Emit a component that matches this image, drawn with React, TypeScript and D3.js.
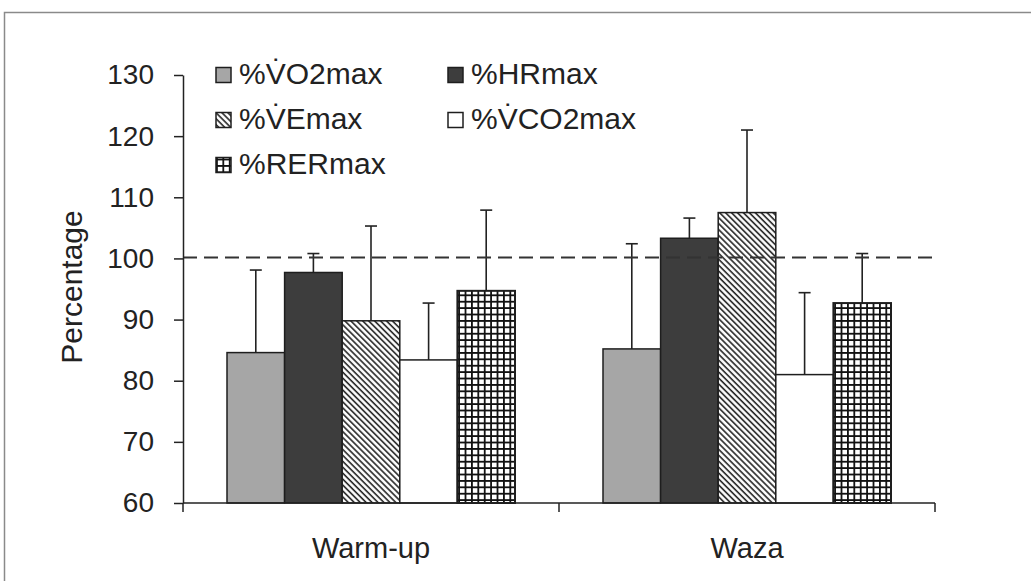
import React, { useEffect, useRef } from "react";
import * as d3 from "d3";

// chart values
const categories = ["Warm-up", "Waza"];
const seriesNames = ["%V\u0307O2max", "%HRmax", "%V\u0307Emax", "%V\u0307CO2max", "%RERmax"];
const seriesKeys = ["vo2", "hr", "ve", "vco2", "rer"];
const warmupMeans = [84.6, 97.7, 89.8, 83.4, 94.7];
const warmupSD = [13.5, 3.1, 15.5, 9.3, 13.2];
const wazaMeans = [85.2, 103.3, 107.5, 81.0, 92.7];
const wazaSD = [17.2, 3.3, 13.5, 13.4, 8.1];
const yTicks = [60, 70, 80, 90, 100, 110, 120, 130];
const refLine = 100;

const FONT = "'Liberation Sans', Arial, sans-serif";

export default function App() {
  const ref = useRef<SVGSVGElement | null>(null);

  useEffect(() => {
    const svg = d3.select(ref.current);
    svg.selectAll("*").remove();

    const left = 183,
      right = 935,
      top = 75,
      bottom = 503;

    const defs = svg.append("defs");
    // diagonal hatch for VE
    const hatch = defs
      .append("pattern")
      .attr("id", "hatch")
      .attr("patternUnits", "userSpaceOnUse")
      .attr("width", 4.2)
      .attr("height", 4.2)
      .attr("patternTransform", "rotate(-45)");
    hatch.append("rect").attr("width", 4.2).attr("height", 4.2).attr("fill", "white");
    hatch
      .append("line")
      .attr("x1", 1)
      .attr("x2", 1)
      .attr("y1", 0)
      .attr("y2", 4.2)
      .attr("stroke", "#222")
      .attr("stroke-width", 1.6);
    // grid for RER
    const grid = defs
      .append("pattern")
      .attr("id", "grid")
      .attr("patternUnits", "userSpaceOnUse")
      .attr("width", 6.4)
      .attr("height", 6.4);
    grid.append("rect").attr("width", 6.4).attr("height", 6.4).attr("fill", "white");
    grid
      .append("path")
      .attr("d", "M0,0.9H6.4M0.9,0V6.4")
      .attr("stroke", "#111")
      .attr("stroke-width", 1.8);

    const fills: Record<string, string> = {
      vo2: "#a6a6a6",
      hr: "#3d3d3d",
      ve: "url(#hatch)",
      vco2: "#ffffff",
      rer: "url(#grid)",
    };

    // frame
    svg
      .append("rect")
      .attr("x", 4.5)
      .attr("y", 12.5)
      .attr("width", 1100)
      .attr("height", 700)
      .attr("fill", "none")
      .attr("stroke", "#8a8a8a")
      .attr("stroke-width", 1.5);

    const y = d3.scaleLinear().domain([60, 130]).range([bottom, top]);
    const x0 = d3.scaleBand().domain(categories).range([left, right]).padding(0);
    const x1 = d3
      .scaleBand()
      .domain(seriesKeys)
      .range([44, x0.bandwidth() - 44])
      .padding(0);

    const data = categories.map((c, i) => ({
      cat: c,
      means: i === 0 ? warmupMeans : wazaMeans,
      sds: i === 0 ? warmupSD : wazaSD,
    }));

    const groups = svg
      .selectAll("g.grp")
      .data(data)
      .enter()
      .append("g")
      .attr("class", "grp")
      .attr("transform", d => "translate(" + x0(d.cat) + ",0)");

    // error bars first, so bars sit on top of their stems
    groups.each(function (d) {
      const g = d3.select(this);
      seriesKeys.forEach((k, j) => {
        const cx = (x1(k) as number) + x1.bandwidth() / 2;
        const m = d.means[j],
          s = d.sds[j];
        g.append("line")
          .attr("x1", cx)
          .attr("x2", cx)
          .attr("y1", y(m))
          .attr("y2", y(m + s))
          .attr("stroke", "#222")
          .attr("stroke-width", 1.6);
        g.append("line")
          .attr("x1", cx - 6)
          .attr("x2", cx + 6)
          .attr("y1", y(m + s))
          .attr("y2", y(m + s))
          .attr("stroke", "#222")
          .attr("stroke-width", 1.6);
      });
    });

    groups.each(function (d) {
      const g = d3.select(this);
      seriesKeys.forEach((k, j) => {
        g.append("rect")
          .attr("x", x1(k) as number)
          .attr("y", y(d.means[j]))
          .attr("width", x1.bandwidth())
          .attr("height", y(60) - y(d.means[j]))
          .attr("fill", fills[k])
          .attr("stroke", "#1e1e1e")
          .attr("stroke-width", k === "rer" ? 2 : 1.5);
      });
    });

    // dashed 100% line
    svg
      .append("line")
      .attr("x1", left)
      .attr("x2", right)
      .attr("y1", y(refLine) - 1)
      .attr("y2", y(refLine) - 1)
      .attr("stroke", "#333")
      .attr("stroke-width", 2)
      .attr("stroke-dasharray", "14,7");

    // y axis
    const yAxis = svg
      .append("g")
      .attr("transform", "translate(" + left + ",0)")
      .call(
        d3
          .axisLeft(y)
          .tickValues(yTicks)
          .tickSize(9)
          .tickSizeOuter(0)
          .tickPadding(20)
          .tickFormat(d3.format("d"))
      );
    yAxis.select(".domain").attr("stroke", "#222").attr("stroke-width", 1.5);
    yAxis.selectAll(".tick line").attr("stroke", "#222").attr("stroke-width", 1.5);
    yAxis
      .selectAll(".tick text")
      .attr("fill", "#222")
      .style("font-family", FONT)
      .style("font-size", "28px");

    // x axis with ticks at category boundaries
    const xg = svg.append("g");
    xg.append("line")
      .attr("x1", left)
      .attr("x2", right)
      .attr("y1", bottom)
      .attr("y2", bottom)
      .attr("stroke", "#222")
      .attr("stroke-width", 1.5);
    const bounds = categories.map(c => x0(c) as number).concat([right]);
    xg.selectAll("line.b")
      .data(bounds)
      .enter()
      .append("line")
      .attr("class", "b")
      .attr("x1", d => d)
      .attr("x2", d => d)
      .attr("y1", bottom)
      .attr("y2", bottom + 9)
      .attr("stroke", "#222")
      .attr("stroke-width", 1.5);
    xg.selectAll("text")
      .data(categories)
      .enter()
      .append("text")
      .attr("x", d => (x0(d) as number) + x0.bandwidth() / 2)
      .attr("y", 558)
      .attr("text-anchor", "middle")
      .attr("fill", "#222")
      .style("font-family", FONT)
      .style("font-size", "29px")
      .text(d => d);

    // y label
    svg
      .append("text")
      .attr("transform", "translate(82,287) rotate(-90)")
      .attr("text-anchor", "middle")
      .attr("fill", "#222")
      .style("font-family", FONT)
      .style("font-size", "30px")
      .text("Percentage");

    // legend
    const legendPos = [
      [216, 75],
      [448, 75],
      [216, 120],
      [448, 120],
      [216, 165],
    ];
    const leg = svg
      .selectAll("g.leg")
      .data(seriesKeys)
      .enter()
      .append("g")
      .attr("class", "leg")
      .attr("transform", (d, i) => "translate(" + legendPos[i][0] + "," + legendPos[i][1] + ")");
    leg.append("rect")
      .attr("x", 0)
      .attr("y", -7.5)
      .attr("width", 15)
      .attr("height", 15)
      .attr("fill", d => fills[d])
      .attr("stroke", "#1e1e1e")
      .attr("stroke-width", 1.5);
    leg.append("text")
      .attr("x", 23)
      .attr("y", 9)
      .attr("fill", "#222")
      .style("font-family", FONT)
      .style("font-size", "30px")
      .text((d, i) => seriesNames[i]);
  }, []);

  return (
    <svg
      ref={ref}
      width={1031}
      height={581}
      style={{ position: "absolute", left: 0, top: 0, background: "white" }}
    />
  );
}
